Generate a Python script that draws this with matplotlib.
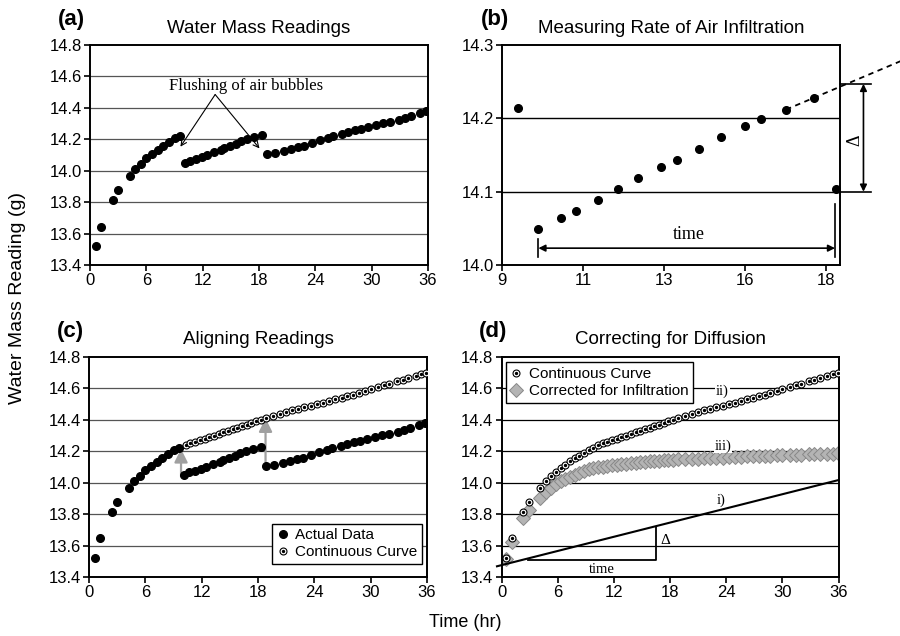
import matplotlib
matplotlib.use("Agg")
import matplotlib.pyplot as plt
from matplotlib.legend_handler import HandlerTuple

plt.rcParams['font.family'] = ['Liberation Sans', 'DejaVu Sans']
SERIF = 'Liberation Serif'

# actual balance readings, split at the two flushes of air bubbles
seg1_time = [0.6, 1.2, 2.4, 3.0, 4.3, 4.8, 5.4, 6.0, 6.6, 7.2, 7.8, 8.4, 9.0, 9.6]
seg1_mass = [13.52, 13.645, 13.815, 13.875, 13.968, 14.008, 14.045, 14.082, 14.106,
             14.13, 14.158, 14.185, 14.207, 14.218]
seg2_time = [10.1, 10.7, 11.3, 11.9, 12.5, 13.2, 13.9, 14.3, 14.9, 15.6, 16.1, 16.7, 17.5, 18.3]
seg2_mass = [14.05, 14.065, 14.075, 14.09, 14.102, 14.117, 14.133, 14.144, 14.157,
             14.173, 14.188, 14.2, 14.215, 14.227]
seg3_time = [18.8, 19.7, 20.7, 21.4, 22.2, 22.8, 23.6, 24.5, 25.3, 25.9, 26.8, 27.5,
             28.2, 28.9, 29.6, 30.5, 31.2, 31.9, 32.9, 33.5, 34.2, 35.1, 35.8]
seg3_mass = [14.104, 14.115, 14.128, 14.136, 14.151, 14.159, 14.178, 14.193, 14.21,
             14.219, 14.234, 14.244, 14.257, 14.265, 14.278, 14.289, 14.301, 14.31,
             14.325, 14.338, 14.35, 14.367, 14.38]

# panel (b): zoom on the second segment
b_time = [9.44, 10.0, 10.64, 11.06, 11.67, 12.22, 12.78, 13.42, 13.86, 14.47, 15.08,
          15.75, 16.19, 16.89, 17.67, 18.28]
b_mass = [14.214, 14.049, 14.064, 14.074, 14.088, 14.103, 14.118, 14.133, 14.143,
          14.158, 14.174, 14.189, 14.199, 14.212, 14.228, 14.103]
b_ticks = [9, 11.25, 13.5, 15.75, 18]
b_ticklabels = ['9', '11', '13', '16', '18']
b_trend_x = [16.89, 20.07]
b_trend_y = [14.212, 14.278]

# continuous (aligned) curve and infiltration-corrected curve
cont_time = [0.5, 1.1, 2.3, 2.9, 4.1, 4.7, 5.3, 5.8, 6.3, 6.8, 7.3, 7.8, 8.3, 8.8, 9.3,
             9.8, 10.3, 10.8, 11.3, 11.8, 12.3, 12.8, 13.3, 13.8, 14.3, 14.8, 15.3,
             15.8, 16.3, 16.8, 17.3, 17.8, 18.3, 18.8, 19.6, 20.3, 21.0, 21.6, 22.3,
             22.9, 23.6, 24.3, 24.9, 25.6, 26.2, 26.9, 27.5, 28.1, 28.7, 29.4, 30.0,
             30.8, 31.4, 32.0, 32.8, 33.4, 34.0, 34.8, 35.4, 35.9]
cont_mass = [13.52, 13.645, 13.815, 13.875, 13.968, 14.008, 14.045, 14.07, 14.095,
             14.115, 14.135, 14.155, 14.172, 14.19, 14.205, 14.222, 14.24, 14.25,
             14.26, 14.27, 14.28, 14.29, 14.30, 14.31, 14.32, 14.33, 14.34, 14.35,
             14.36, 14.37, 14.38, 14.39, 14.40, 14.41, 14.425, 14.435, 14.45, 14.46,
             14.47, 14.48, 14.49, 14.50, 14.51, 14.52, 14.53, 14.54, 14.55, 14.56,
             14.57, 14.585, 14.595, 14.61, 14.62, 14.63, 14.645, 14.655, 14.665,
             14.68, 14.69, 14.70]
corr_mass = [13.517, 13.625, 13.775, 13.826, 13.905, 13.938, 13.966, 13.99, 14.008,
             14.022, 14.037, 14.05, 14.063, 14.074, 14.084, 14.092, 14.098, 14.103,
             14.107, 14.11, 14.113, 14.117, 14.12, 14.124, 14.127, 14.13, 14.132,
             14.135, 14.137, 14.14, 14.142, 14.145, 14.147, 14.148, 14.15, 14.151,
             14.153, 14.154, 14.155, 14.157, 14.159, 14.161, 14.164, 14.166, 14.167,
             14.169, 14.171, 14.172, 14.173, 14.175, 14.176, 14.177, 14.178, 14.179,
             14.18, 14.181, 14.182, 14.183, 14.184, 14.186]
# infiltration line i)
infil_x = [-0.5, 36]
infil_y = [13.468, 14.017]

actual_time = seg1_time + seg2_time + seg3_time
actual_mass = seg1_mass + seg2_mass + seg3_mass

TICK_FS = 12
TITLE_FS = 13.5
GRID_C = '#555555'
DOT_MS = 5.5


def style_axes(ax, xlim, ylim, yticks, xticks, title, tag):
    ax.set_xlim(*xlim)
    ax.set_ylim(*ylim)
    ax.set_yticks(yticks)
    ax.set_xticks(xticks)
    ax.yaxis.set_major_formatter(matplotlib.ticker.FormatStrFormatter('%.1f'))
    for y in yticks[1:-1]:
        ax.axhline(y, color=GRID_C, lw=0.9, zorder=0)
    for s in ax.spines.values():
        s.set_linewidth(1.4)
    ax.tick_params(direction='out', length=4, width=1.2, labelsize=TICK_FS, pad=2)
    ax.set_title(title, fontsize=TITLE_FS, pad=9)
    ax.text(-0.055, 1.115, tag, transform=ax.transAxes, fontsize=16,
            fontweight='bold', ha='center', va='center')


def cont_plot(ax, t, m):
    h1, = ax.plot(t, m, 'o', ms=5, mfc='white', mec='black', mew=0.8, ls='none', zorder=3)
    h2, = ax.plot(t, m, 'o', ms=1.4, mfc='black', mec='black', ls='none', zorder=4)
    return (h1, h2)


fig = plt.figure(figsize=(9, 6.36), dpi=100)
ax_a = fig.add_axes([0.1, 0.5833, 0.3756, 0.3459])
ax_b = fig.add_axes([0.5578, 0.5833, 0.3756, 0.3459])
ax_c = fig.add_axes([0.0989, 0.0928, 0.3756, 0.3459])
ax_d = fig.add_axes([0.5574, 0.0928, 0.3744, 0.3459])

mass_ticks = [13.4, 13.6, 13.8, 14.0, 14.2, 14.4, 14.6, 14.8]
hr_ticks = [0, 6, 12, 18, 24, 30, 36]

# (a)
style_axes(ax_a, (0, 36), (13.4, 14.8), mass_ticks, hr_ticks, 'Water Mass Readings', '(a)')
ax_a.plot(actual_time, actual_mass, 'o', color='black', ms=DOT_MS, zorder=3)
for tip in [(9.63, 14.153), (18.05, 14.142)]:
    ax_a.annotate('', xy=tip, xytext=(13.33, 14.485),
                  arrowprops=dict(arrowstyle='->', color='black', lw=0.8, shrinkA=0, shrinkB=0))
ax_a.text(16.6, 14.54, 'Flushing of air bubbles', family=SERIF, fontsize=12,
          ha='center', va='center')

# (b)
style_axes(ax_b, (9, 18.39), (14.0, 14.3), [14.0, 14.1, 14.2, 14.3], b_ticks,
           'Measuring Rate of Air Infiltration', '(b)')
ax_b.set_xticklabels(b_ticklabels)
ax_b.yaxis.set_major_formatter(matplotlib.ticker.FormatStrFormatter('%.1f'))
ax_b.texts[0].set_position((-0.02, 1.115))
for y in [14.1, 14.2]:
    ax_b.axhline(y, color='black', lw=0.9, zorder=0)
ax_b.plot(b_time, b_mass, 'o', color='black', ms=DOT_MS, zorder=3)
ax_b.plot(b_trend_x, b_trend_y, color='black', lw=1.3, ls=(0, (3, 2.5)), clip_on=False)
for y in [14.247, 14.1]:
    ax_b.plot([18.39, 19.24], [y, y], color='black', lw=1.2, clip_on=False)
ax_b.annotate('', xy=(19.04, 14.247), xytext=(19.04, 14.1), annotation_clip=False,
              arrowprops=dict(arrowstyle='<|-|>', color='black', lw=1.2, shrinkA=0,
                              shrinkB=0, mutation_scale=10))
ax_b.text(18.8, 14.17, '\u0394', family=SERIF, fontsize=13, rotation=90,
          ha='center', va='center')
ax_b.annotate('', xy=(10.01, 14.023), xytext=(18.25, 14.023),
              arrowprops=dict(arrowstyle='<|-|>', color='black', lw=1.2, shrinkA=0,
                              shrinkB=0, mutation_scale=10))
ax_b.plot([10.01, 10.01], [14.011, 14.035], color='black', lw=1.2)
ax_b.plot([18.25, 18.25], [14.011, 14.083], color='black', lw=1.2)
ax_b.text(14.18, 14.041, 'time', family=SERIF, fontsize=13, ha='center', va='center')

# (c)
style_axes(ax_c, (0, 36), (13.4, 14.8), mass_ticks, hr_ticks, 'Aligning Readings', '(c)')
h_act, = ax_c.plot(actual_time, actual_mass, 'o', color='black', ms=DOT_MS, zorder=3)
c_mask = [t >= 10 for t in cont_time]
h_cont = cont_plot(ax_c, [t for t, k in zip(cont_time, c_mask) if k],
                   [m for m, k in zip(cont_mass, c_mask) if k])
for x, y0, y1 in [(9.8, 14.04, 14.215), (18.8, 14.10, 14.41)]:
    ax_c.annotate('', xy=(x, y1), xytext=(x, y0),
                  arrowprops=dict(arrowstyle='-|>', color='#a0a0a0', lw=1.6, shrinkA=0,
                                  shrinkB=0, mutation_scale=20), zorder=2)
leg = ax_c.legend([h_act, h_cont], ['Actual Data', 'Continuous Curve'],
                  handler_map={tuple: HandlerTuple(ndivide=1)},
                  loc='lower right', bbox_to_anchor=(0.985, 0.06), fontsize=11,
                  frameon=True, fancybox=False, edgecolor='black', framealpha=1,
                  handlelength=0.8, handletextpad=0.4, borderpad=0.3, labelspacing=0.2,
                  borderaxespad=0)
leg.get_frame().set_linewidth(1.0)

# (d)
style_axes(ax_d, (0, 36), (13.4, 14.8), mass_ticks, hr_ticks, 'Correcting for Diffusion', '(d)')
ax_d.texts[0].set_position((-0.025, 1.115))
for gl in ax_d.lines:
    gl.set_color('black')
h_cont_d = cont_plot(ax_d, cont_time, cont_mass)
h_corr, = ax_d.plot(cont_time, corr_mass, 'D', ms=7, mfc='#b4b4b4', mec='#888888',
                    mew=0.7, ls='none', zorder=2)
ax_d.plot(infil_x, infil_y, color='black', lw=1.5, clip_on=False, zorder=3)
ax_d.plot([2.85, 16.54, 16.54], [13.506, 13.506, 13.715], color='black', lw=1.3)
ax_d.text(10.7, 13.447, 'time', family=SERIF, fontsize=10.5, ha='center', va='center')
ax_d.text(17.5, 13.635, '\u0394', family=SERIF, fontsize=11, ha='center', va='center')
for lbl, x, y in [('i)', 23.5, 13.89), ('ii)', 23.6, 14.58), ('iii)', 23.65, 14.235)]:
    ax_d.text(x, y, lbl, family=SERIF, fontsize=10.5, ha='center', va='center',
              bbox=dict(facecolor='white', edgecolor='none', pad=0.5), zorder=2.5)
leg = ax_d.legend([h_cont_d, h_corr], ['Continuous Curve', 'Corrected for Infiltration'],
                  handler_map={tuple: HandlerTuple(ndivide=1)},
                  loc='upper left', bbox_to_anchor=(0.012, 0.975), fontsize=11,
                  frameon=True, fancybox=False, edgecolor='black', framealpha=1,
                  handlelength=0.8, handletextpad=0.4, borderpad=0.3, labelspacing=0.2,
                  borderaxespad=0)
leg.get_frame().set_linewidth(1.0)

fig.text(0.02, 0.531, 'Water Mass Reading (g)', rotation=90, fontsize=14,
         ha='center', va='center')
fig.text(0.517, 0.022, 'Time (hr)', fontsize=13, ha='center', va='center')

fig.savefig('out.png', dpi=100)
